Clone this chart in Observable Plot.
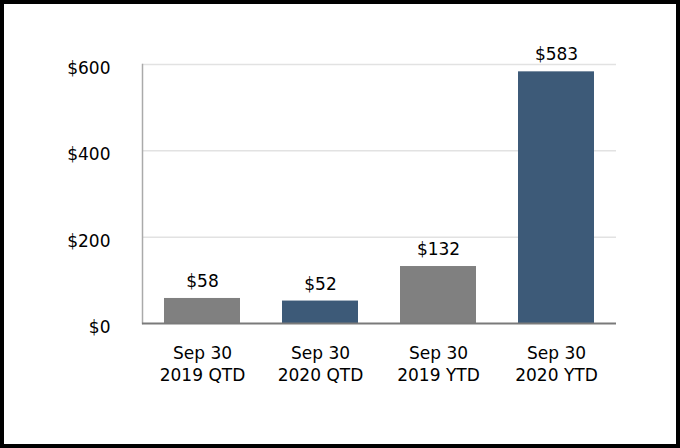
<!DOCTYPE html>
<html>
<head>
<meta charset="utf-8">
<script src="https://cdn.jsdelivr.net/npm/d3@7"></script>
<script src="https://cdn.jsdelivr.net/npm/@observablehq/plot@0.6"></script>
<style>
  html, body { margin: 0; padding: 0; background: #fff; }
  #wrap { position: relative; width: 680px; height: 448px; overflow: hidden; }
  #border { position: absolute; left: 0; top: 0; width: 680px; height: 448px; box-sizing: border-box; border: 4px solid #000; pointer-events: none; }
</style>
</head>
<body>
<div id="wrap"><div id="chart"></div><div id="border"></div></div>
<script>
const periods = ["Sep 30\n2019 QTD", "Sep 30\n2020 QTD", "Sep 30\n2019 YTD", "Sep 30\n2020 YTD"];
const values = [58, 52, 132, 583];
const barColors = ["#808080", "#3d5a78", "#808080", "#3d5a78"];
const yTicks = [0, 200, 400, 600];

const data = periods.map((p, i) => ({period: p, value: values[i], color: barColors[i]}));
const font = "DejaVu Sans, sans-serif";

const chart = Plot.plot({
  width: 680,
  height: 448,
  marginLeft: 142,
  marginRight: 64,
  marginTop: 64,
  marginBottom: 125,
  style: {fontFamily: font, fontSize: "17px", color: "#000", background: "#fff"},
  x: {domain: periods, paddingInner: 0.36, paddingOuter: 0.18, axis: null},
  y: {domain: [0, 600], axis: null},
  marks: [
    Plot.ruleY(yTicks.filter(d => d > 0), {stroke: "#e2e2e2", strokeWidth: 1.5}),
    Plot.frame({anchor: "left", stroke: "#aaaaaa", strokeWidth: 1.5}),
    Plot.barY(data, {x: "period", y: "value", fill: "color"}),
    Plot.ruleY([0], {stroke: "#7a7a7a", strokeWidth: 2}),
    Plot.text(data, {x: "period", y: "value", text: d => "$" + d.value, dy: -17, fill: "#000", fontSize: 17}),
    Plot.axisY({ticks: yTicks, tickSize: 0, tickPadding: 32, dy: 4, tickFormat: d => "$" + d, fontSize: 17, fill: "#000", label: null}),
    Plot.axisX({tickSize: 0, tickPadding: 20, lineHeight: 1.3, fontSize: 17, fill: "#000", label: null})
  ]
});
document.getElementById("chart").appendChild(chart);
</script>
</body>
</html>
